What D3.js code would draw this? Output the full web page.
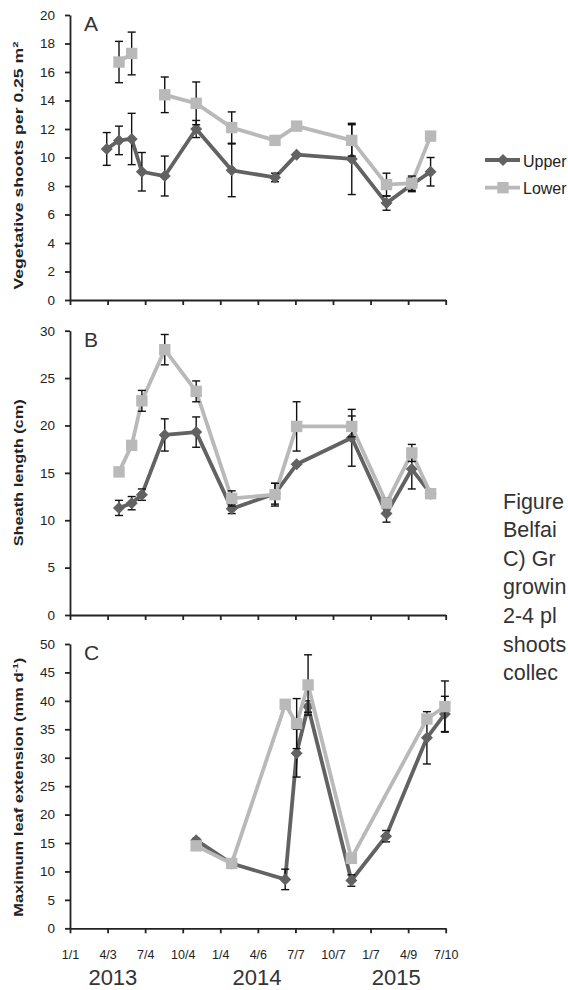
<!DOCTYPE html>
<html>
<head>
<meta charset="utf-8">
<script src="https://cdn.jsdelivr.net/npm/d3@7"></script>
<style>
  body { margin: 0; background: #fff; }
  svg { display: block; font-family: "Liberation Sans", Arial, sans-serif; }
  .axis path, .axis line { stroke: #222; stroke-width: 1.8; }
  .axis text { fill: #222; }
</style>
</head>
<body>
<svg id="chart" width="568" height="990"></svg>
<script>
// x axis (Excel date axis, major unit 92 days)
var tickDates = ["2013-01-01","2013-04-03","2013-07-04","2013-10-04","2014-01-04","2014-04-06",
                 "2014-07-07","2014-10-07","2015-01-07","2015-04-09","2015-07-10"];
var tickLabels = ["1/1","4/3","7/4","10/4","1/4","4/6","7/7","10/7","1/7","4/9","7/10"];
var yearLabels = ["2013","2014","2015"];
var yearDates = ["2013-04-16","2014-04-04","2015-03-11"];
var seriesNames = ["Upper","Lower"];

// A) vegetative shoots
var aDates = ["2013-04-01","2013-05-01","2013-06-01","2013-06-26","2013-08-21","2013-11-06","2014-02-01",
              "2014-05-18","2014-07-10","2014-11-22","2015-02-15","2015-04-18","2015-06-03"];
var aUpper    = [10.6, 11.2, 11.3, 9.0, 8.7, 12.0, 9.1, 8.6, 10.2, 9.9, 6.8, 8.1, 9.0];
var aUpperErr = [1.15, 1.0, 1.8, 1.35, 1.4, 0.6, 1.85, 0.3, 0.2, 2.5, 0.5, 0.5, 1.0];
var aLower    = [null, 16.7, 17.3, null, 14.4, 13.8, 12.1, 11.2, 12.2, 11.2, 8.1, 8.2, 11.5];
var aLowerErr = [null, 1.45, 1.5, null, 1.25, 1.5, 1.1, 0.2, 0.2, 1.1, 0.8, 0.5, 0];

// B) sheath length
var bDates = ["2013-05-01","2013-06-01","2013-06-26","2013-08-21","2013-11-06","2014-02-01",
              "2014-05-18","2014-07-10","2014-11-22","2015-02-15","2015-04-18","2015-06-03"];
var bUpper    = [11.3, 11.8, 12.7, 19.0, 19.3, 11.2, 12.8, 15.9, 18.7, 10.7, 15.4, 12.8];
var bUpperErr = [0.8, 0.7, 0.6, 1.7, 1.6, 0.5, 1.1, 0.2, 3.0, 0.9, 2.1, 0.2];
var bLower    = [15.1, 17.9, 22.6, 28.0, 23.6, 12.3, 12.7, 19.9, 19.9, 11.8, 17.1, 12.8];
var bLowerErr = [0.2, 0.3, 1.1, 1.6, 1.1, 0.8, 1.2, 2.6, 1.1, 0.5, 0.9, 0.2];

// C) maximum leaf extension
var cUpperDates = ["2013-11-06","2014-02-01","2014-06-12","2014-07-10","2014-08-07","2014-11-21",
                   "2015-02-14","2015-05-25","2015-07-08"];
var cUpper    = [15.5, 11.4, 8.6, 30.8, 39.0, 8.4, 16.2, 33.5, 37.7];
var cUpperErr = [0.3, 0.5, 1.8, 4.2, 1.0, 1.0, 1.0, 4.6, 3.1];
var cLowerDates = ["2013-11-06","2014-02-01","2014-06-12","2014-07-10","2014-08-07","2014-11-21",
                   "2015-05-25","2015-07-08"];
var cLower    = [14.5, 11.4, 39.4, 36.0, 42.8, 12.3, 36.8, 39.0];
var cLowerErr = [0.3, 0.3, 0.3, 4.4, 5.3, 0.5, 0.5, 4.5];

// caption, only the part that shows at the page edge
var captionLines = ["Figure", "Belfai", "C) Gr", "growin", "2-4 pl", "shoots", "collec"];

var parse = d3.utcParse("%Y-%m-%d");
var colors = {Upper: "#626262", Lower: "#b9b9b9"};

var svg = d3.select("#chart");

var x = d3.scaleUtc()
    .domain([parse(tickDates[0]), parse(tickDates[tickDates.length - 1])])
    .range([70, 445.7]);

function zip(dates, vals, errs) {
  return dates.map(function(d, i) { return {date: parse(d), v: vals[i], e: errs[i]}; });
}

var panels = [
  {letter: "A", max: 20, step: 2, top: 15, bottom: 300, titleLen: 248, titleShift: 8,
   upper: zip(aDates, aUpper, aUpperErr), lower: zip(aDates, aLower, aLowerErr)},
  {letter: "B", max: 30, step: 5, top: 330.7, bottom: 615, titleLen: 147, titleShift: 0,
   upper: zip(bDates, bUpper, bUpperErr), lower: zip(bDates, bLower, bLowerErr)},
  {letter: "C", max: 50, step: 5, top: 644, bottom: 928.3, titleLen: 259, titleShift: 1,
   upper: zip(cUpperDates, cUpper, cUpperErr), lower: zip(cLowerDates, cLower, cLowerErr)}
];

var diamond = d3.symbol().type(d3.symbolSquare).size(72);
var square = d3.symbol().type(d3.symbolSquare).size(130);

panels.forEach(function(p, pi) {
  var y = d3.scaleLinear().domain([0, p.max]).range([p.bottom, p.top]);
  var g = svg.append("g");

  // axes
  g.append("g")
      .attr("class", "axis")
      .attr("transform", "translate(70,0)")
      .call(d3.axisLeft(y).tickValues(d3.range(0, p.max + 0.1, p.step))
            .tickSize(5).tickSizeOuter(0).tickPadding(10))
      .selectAll("text").style("font-size", "13.5px");

  var xa = g.append("g")
      .attr("class", "axis")
      .attr("transform", "translate(0," + p.bottom + ")")
      .call(d3.axisBottom(x).tickValues(tickDates.map(parse))
            .tickSize(5).tickSizeOuter(0).tickPadding(17)
            .tickFormat(function(d, i) { return pi === 2 ? tickLabels[i] : ""; }));
  xa.selectAll("text").style("font-size", "12.5px");

  // panel letter
  g.append("text")
      .attr("x", 84).attr("y", p.top + 16)
      .attr("font-size", 21).attr("fill", "#333")
      .text(p.letter);

  // y title
  var t = g.append("text")
      .attr("transform", "translate(23," + ((p.top + p.bottom) / 2 + p.titleShift) + ") rotate(-90)")
      .attr("text-anchor", "middle")
      .attr("font-size", 12.5).attr("font-weight", "bold").attr("fill", "#222")
      .attr("textLength", p.titleLen).attr("lengthAdjust", "spacingAndGlyphs");
  if (pi === 0) {
    t.append("tspan").text("Vegetative shoots per 0.25 m");
    t.append("tspan").attr("dy", -5).attr("font-size", 8).text("2");
  } else if (pi === 1) {
    t.text("Sheath length (cm)");
  } else {
    t.append("tspan").text("Maximum leaf extension (mm d");
    t.append("tspan").attr("dy", -5).attr("font-size", 8).text("-1");
    t.append("tspan").attr("dy", 5).text(")");
  }

  var line = d3.line()
      .defined(function(d) { return d.v != null; })
      .x(function(d) { return x(d.date); })
      .y(function(d) { return y(d.v); });

  [["Upper", p.upper, diamond, 45], ["Lower", p.lower, square, 0]].forEach(function(s) {
    var name = s[0], data = s[1], sym = s[2], rot = s[3];
    var pts = data.filter(function(d) { return d.v != null; });
    var sg = g.append("g");

    sg.append("path")
        .datum(data)
        .attr("d", line)
        .attr("fill", "none")
        .attr("stroke", colors[name])
        .attr("stroke-width", 3.8)
        .attr("stroke-linejoin", "round");

    var eb = sg.selectAll(".err")
      .data(pts.filter(function(d) { return d.e > 0.25; }))
      .enter().append("g")
        .attr("stroke", "#111").attr("stroke-width", 1.4);
    eb.append("line")
        .attr("x1", function(d) { return x(d.date); })
        .attr("x2", function(d) { return x(d.date); })
        .attr("y1", function(d) { return y(d.v - d.e); })
        .attr("y2", function(d) { return y(d.v + d.e); });
    [-1, 1].forEach(function(sgn) {
      eb.append("line")
          .attr("x1", function(d) { return x(d.date) - 4; })
          .attr("x2", function(d) { return x(d.date) + 4; })
          .attr("y1", function(d) { return y(d.v + sgn * d.e); })
          .attr("y2", function(d) { return y(d.v + sgn * d.e); });
    });

    sg.selectAll(".mk")
      .data(pts)
      .enter().append("path")
        .attr("d", sym)
        .attr("transform", function(d) { return "translate(" + x(d.date) + "," + y(d.v) + ") rotate(" + rot + ")"; })
        .attr("fill", colors[name]);
  });
});

// year labels under the date axis
svg.selectAll(".year")
  .data(yearLabels)
  .enter().append("text")
    .attr("x", function(d, i) { return x(parse(yearDates[i])); })
    .attr("y", 985)
    .attr("text-anchor", "middle")
    .attr("font-size", 22).attr("fill", "#333")
    .text(function(d) { return d; });

// legend
var lg = svg.append("g").attr("transform", "translate(485,160)");
seriesNames.forEach(function(name, i) {
  var row = lg.append("g").attr("transform", "translate(0," + (i * 27.7) + ")");
  row.append("line").attr("x1", 0).attr("x2", 35)
      .attr("stroke", colors[name]).attr("stroke-width", 3.8);
  row.append("path")
      .attr("d", i === 0 ? diamond : square)
      .attr("transform", "translate(18,0) rotate(" + (i === 0 ? 45 : 0) + ")")
      .attr("fill", colors[name]);
  row.append("text").attr("x", 38).attr("y", 6.5)
      .attr("font-size", 16).attr("fill", "#222")
      .text(name);
});

// caption text at the right edge
svg.selectAll(".cap")
  .data(captionLines)
  .enter().append("text")
    .attr("x", 503)
    .attr("y", function(d, i) { return 508.5 + i * 28.6; })
    .attr("font-size", 21.5).attr("fill", "#333")
    .text(function(d) { return d; });
</script>
</body>
</html>
